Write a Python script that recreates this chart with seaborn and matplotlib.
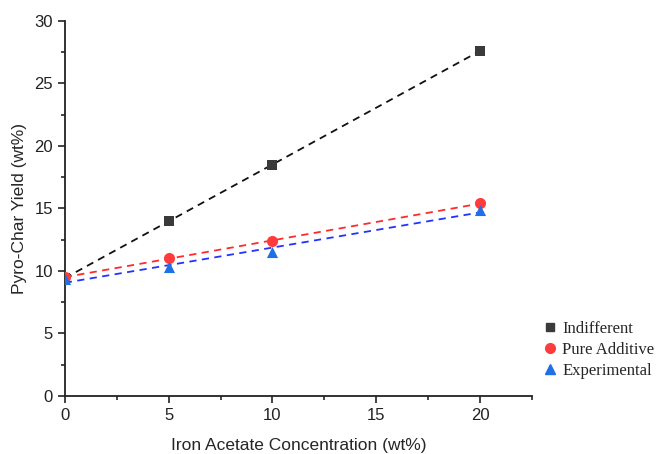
import numpy as np
import pandas as pd
import seaborn as sns
import matplotlib.pyplot as plt
from matplotlib.ticker import AutoMinorLocator
from matplotlib.lines import Line2D

# valeurs
conc = [0, 5, 10, 20]
indifferent = [9.4, 14.0, 18.5, 27.6]
pure_additive = [9.5, 11.0, 12.4, 15.4]
experimental = [9.35, 10.3, 11.5, 14.9]

series = [
    ("Indifferent", indifferent, "s", "#3a3a3a", "#111111", 7),
    ("Pure Additive", pure_additive, "o", "#ff3b3b", "#ff2a2a", 8),
    ("Experimental", experimental, "^", "#1f6fe5", "#2233ff", 8),
]

sns.set_style("ticks")
plt.rcParams["font.family"] = ["Liberation Sans", "DejaVu Sans"]

fig = plt.figure(figsize=(6.61, 4.54), dpi=100)
ax = fig.add_axes([0.098, 0.128, 0.707, 0.826])

handles = []
for name, vals, mk, mcol, lcol, ms in series:
    df = pd.DataFrame({"x": conc, "y": vals})
    sns.regplot(data=df, x="x", y="y", ax=ax, ci=None, truncate=True,
                marker=mk, scatter_kws={"s": ms ** 2, "color": mcol, "zorder": 3,
                                        "linewidths": 0, "alpha": 1},
                line_kws={"color": lcol, "ls": (0, (4, 3)), "lw": 1.3, "zorder": 2})
    handles.append(Line2D([], [], ls="none", marker=mk, color=mcol, markersize=ms - 1, label=name))

sns.despine(ax=ax)
ax.set_xlim(0, 22.5)
ax.set_ylim(0, 30)
ax.set_xticks([0, 5, 10, 15, 20])
ax.set_yticks([0, 5, 10, 15, 20, 25, 30])
ax.xaxis.set_minor_locator(AutoMinorLocator(2))
ax.yaxis.set_minor_locator(AutoMinorLocator(2))
ax.tick_params(axis="both", which="major", length=5, width=1.2, labelsize=12, colors="#222222")
ax.tick_params(axis="both", which="minor", length=3, width=1.2)
for side in ["left", "bottom"]:
    ax.spines[side].set_linewidth(1.3)
    ax.spines[side].set_color("#222222")

ax.set_xlabel("Iron Acetate Concentration (wt%)", fontsize=12.5, labelpad=11)
ax.set_ylabel("Pyro-Char Yield (wt%)", fontsize=12.5, labelpad=5)

fig.legend(handles=handles, loc="upper left", bbox_to_anchor=(0.8, 0.318),
           frameon=False, prop={"family": "Liberation Serif", "size": 12},
           handletextpad=0.1, labelspacing=0.3, handlelength=1.2, borderaxespad=0.3)

fig.savefig("out.png", dpi=100)
